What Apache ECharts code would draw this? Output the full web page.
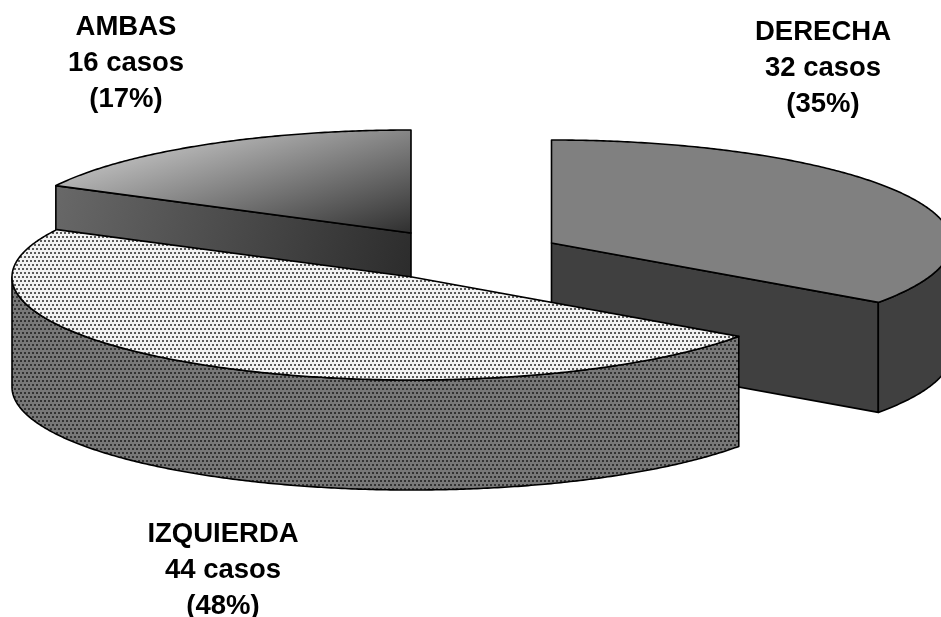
<!DOCTYPE html>
<html>
<head>
<meta charset="utf-8">
<style>html,body{margin:0;padding:0;background:#fff}#chart{width:941px;height:617px}</style>
<script src="https://cdn.jsdelivr.net/npm/echarts@6/dist/echarts.min.js"></script>
</head>
<body>
<div id="chart"></div>
<script>
// Case counts per side, in drawing order around the pie (clockwise from 12 o'clock).
const categories = ['DERECHA', 'IZQUIERDA', 'AMBAS'];
const casos = [32, 44, 16];
const percents = [35, 48, 17];

// Projection of the tilted, exploded pie.
const radiusX = 400, radiusY = 103, depth = 110;
const sliceCenters = [[551.5, 243], [412, 277], [411, 233]];
const labelCenters = [[823, 14], [223, 516], [126, 9]];
const paintOrder = [0, 2, 1];

function dotTile(bg, dot) {
  const c = document.createElement('canvas');
  c.width = 8; c.height = 8;
  const g = c.getContext('2d');
  g.fillStyle = bg; g.fillRect(0, 0, 8, 8);
  g.fillStyle = dot;
  [[0, 0], [4, 0], [2, 4], [6, 4]].forEach(p => g.fillRect(p[0], p[1], 2, 2));
  return { image: c, repeat: 'repeat' };
}

function linear(x, y, x2, y2, from, to) {
  return { type: 'linear', global: true, x, y, x2, y2,
    colorStops: [{ offset: 0, color: from }, { offset: 1, color: to }] };
}

const topFills = [
  '#808080',
  dotTile('#f2f2f2', '#5a5a5a'),
  linear(290, 108, 334, 255, '#b8b8b8', '#303030')
];
const wallFills = [
  '#404040',
  dotTile('#787878', '#333333'),
  linear(60, 180, 410, 280, '#686868', '#2c2c2c')
];

const stroke = { stroke: '#000', lineWidth: 1.6, lineJoin: 'round' };

function rimPoint(c, deg, drop) {
  const a = deg * Math.PI / 180;
  return [c[0] + radiusX * Math.sin(a), c[1] - radiusY * Math.cos(a) + (drop || 0)];
}

function rimPoints(c, from, to, drop) {
  const pts = [];
  const n = Math.max(2, Math.ceil((to - from) * 2));
  for (let i = 0; i <= n; i++) pts.push(rimPoint(c, from + (to - from) * i / n, drop));
  return pts;
}

const total = casos.reduce((s, v) => s + v, 0);

function renderSlice(params, api) {
  const i = paintOrder[params.dataIndex];
  const c = sliceCenters[i];
  const before = casos.slice(0, i).reduce((s, v) => s + v, 0);
  const a0 = before / total * 360;
  const a1 = (before + api.value(1)) / total * 360;
  const children = [];
  const poly = (points, fill) => children.push({
    type: 'polygon', shape: { points }, style: Object.assign({ fill }, stroke)
  });
  const radialFace = deg => {
    const p = rimPoint(c, deg);
    poly([c, p, [p[0], p[1] + depth], [c[0], c[1] + depth]], wallFills[i]);
  };
  // Cut faces that turn towards the viewer
  if (Math.sin(a0 * Math.PI / 180) < -1e-6) radialFace(a0);
  if (Math.sin(a1 * Math.PI / 180) > 1e-6) radialFace(a1);
  // Outer wall, only along the front half of the rim
  const w0 = Math.max(a0, 90), w1 = Math.min(a1, 270);
  if (w1 > w0) {
    poly(rimPoints(c, w0, w1, 0).concat(rimPoints(c, w0, w1, depth).reverse()), wallFills[i]);
  }
  // Top face
  poly([c].concat(rimPoints(c, a0, a1, 0)), topFills[i]);
  // Caption
  children.push({
    type: 'text',
    style: {
      x: labelCenters[i][0], y: labelCenters[i][1],
      text: categories[i] + '\n' + api.value(1) + ' casos\n(' + percents[i] + '%)',
      fill: '#000', align: 'center', verticalAlign: 'top',
      font: 'bold 27.5px "Liberation Sans", Arial, sans-serif', lineHeight: 36
    }
  });
  return { type: 'group', children };
}

const chart = echarts.init(document.getElementById('chart'), null, { renderer: 'canvas' });
chart.setOption({
  animation: false,
  backgroundColor: '#fff',
  series: [{
    type: 'custom',
    coordinateSystem: 'none',
    silent: true,
    clip: false,
    renderItem: renderSlice,
    data: paintOrder.map(i => [categories[i], casos[i]])
  }]
});
</script>
</body>
</html>
